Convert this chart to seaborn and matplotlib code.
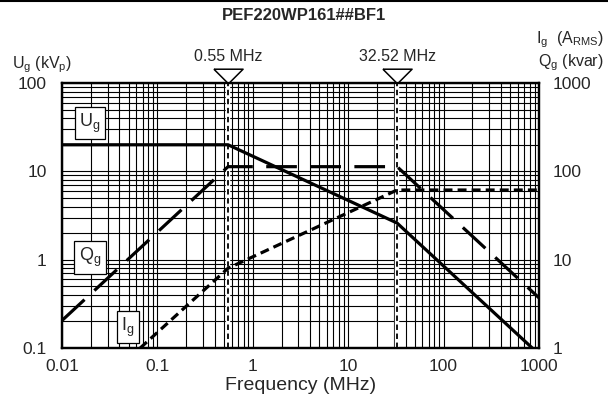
import numpy as np
import pandas as pd
import matplotlib
matplotlib.use("Agg")
import matplotlib.pyplot as plt
import matplotlib.transforms as mtransforms
from matplotlib.ticker import FixedLocator, LogLocator, NullFormatter
import seaborn as sns

# Data
ug_freq = [0.01, 0.55, 32.52, 850]       # MHz
ug_kv = [20, 20, 2.6, 0.1]               # kVp (left axis)
ig_freq = [0.066, 0.55, 32.52, 1000]     # MHz
ig_a = [1, 8, 61.5, 61.5]                # A rms (right axis)
qg_freq = [0.01, 0.55, 32.52, 1000]      # MHz
qg_kvar = [2.05, 113, 113, 3.7]          # kvar (right axis)

marker_freqs = [0.55, 32.52]
marker_labels = ["0.55 MHz", "32.52 MHz"]

x_ticks = [0.01, 0.1, 1, 10, 100, 1000]
x_labels = ["0.01", "0.1", "1", "10", "100", "1000"]
yl_ticks = [0.1, 1, 10, 100]
yl_labels = ["0.1", "1", "10", "100"]
yr_ticks = [1, 10, 100, 1000]
yr_labels = ["1", "10", "100", "1000"]

sns.set_style("white")
plt.rcParams["font.family"] = ["Liberation Sans", "DejaVu Sans"]
plt.rcParams["mathtext.default"] = "regular"

fig = plt.figure(figsize=(6.08, 4.08), dpi=100)
ax = fig.add_axes([0.102, 0.147, 0.7845, 0.6495])
ax2 = ax.twinx()

ax.set_xscale("log")
ax.set_yscale("log")
ax2.set_yscale("log")
ax.set_xlim(0.01, 1000)
ax.set_ylim(0.1, 100)
ax2.set_ylim(1, 1000)

# grid
for a in (ax.xaxis, ax.yaxis):
    a.set_minor_locator(LogLocator(base=10, subs=np.arange(2, 10)))
    a.set_minor_formatter(NullFormatter())
ax.grid(which="both", color="black", linewidth=0.8)
ax.set_axisbelow(True)
ax2.yaxis.set_minor_locator(LogLocator(base=10, subs=np.arange(2, 10)))
ax2.yaxis.set_minor_formatter(NullFormatter())
ax2.grid(False)

# vertical markers at the corner frequencies
for f in marker_freqs:
    ax.axvline(f, color="white", linewidth=3.2, zorder=3)
    ax.axvline(f, color="black", linewidth=1.3, linestyle=(0, (3, 2)), zorder=3.1)

# curves
ug_df = pd.DataFrame({"f": ug_freq, "v": ug_kv})
ig_df = pd.DataFrame({"f": ig_freq, "v": ig_a})
qg_df = pd.DataFrame({"f": qg_freq, "v": qg_kvar})

sns.lineplot(data=ug_df, x="f", y="v", ax=ax, color="black", linewidth=2.3,
             solid_capstyle="butt", zorder=4)
sns.lineplot(data=qg_df, x="f", y="v", ax=ax2, color="black", linewidth=2.3,
             linestyle=(0, (9.6, 4.2)), zorder=4)
sns.lineplot(data=ig_df, x="f", y="v", ax=ax2, color="black", linewidth=2.3,
             linestyle=(0, (2.8, 1.6)), zorder=4)

# ticks and labels
ax.xaxis.set_major_locator(FixedLocator(x_ticks))
ax.set_xticklabels(x_labels)
ax.yaxis.set_major_locator(FixedLocator(yl_ticks))
ax.set_yticklabels(yl_labels)
ax2.yaxis.set_major_locator(FixedLocator(yr_ticks))
ax2.set_yticklabels(yr_labels)

ax.tick_params(axis="x", which="both", length=0, pad=8, labelsize=12.5)
ax.tick_params(axis="y", which="both", length=0, pad=11, labelsize=12.5)
ax2.tick_params(axis="y", which="both", length=0, pad=10, labelsize=12.5)

ax.set_xlabel("Frequency (MHz)", fontsize=14, labelpad=2)
ax.set_ylabel("")
ax2.set_ylabel("")

for a in (ax, ax2):
    for s in a.spines.values():
        s.set_color("black")
        s.set_linewidth(1.6)

# triangle markers and labels above the plot
trans = mtransforms.blended_transform_factory(ax.transData, ax.transAxes)
tri = [(-1, 0.5), (1, 0.5), (0, -0.5), (-1, 0.5)]
for f, lab in zip(marker_freqs, marker_labels):
    ax.plot([f], [1.028], transform=trans, marker=tri, markersize=21,
            markerfacecolor="white", markeredgecolor="black",
            markeredgewidth=1.1, clip_on=False, zorder=6)
    ax.text(f, 1.083, lab, transform=trans, ha="center", va="baseline",
            fontsize=11.5)

# curve name boxes
box = dict(boxstyle="square,pad=0.25", facecolor="white", edgecolor="black",
           linewidth=0.9)
ax.text(0.0197, 35, "U$_g$", ha="center", va="center", fontsize=13,
        bbox=box, zorder=7)
ax.text(0.0197, 1.06, "Q$_g$", ha="center", va="center", fontsize=13,
        bbox=box, zorder=7)
ax.text(0.049, 0.173, "I$_g$", ha="center", va="center", fontsize=13,
        bbox=box, zorder=7)

# axis titles
fig.text(12 / 608, 1 - 68 / 408, "U$_g$ (kV$_p$)", ha="left", va="baseline",
         fontsize=11.5)
fig.text(604 / 608, 1 - 43 / 408, "I$_g$  (A$_{RMS}$)", ha="right",
         va="baseline", fontsize=11.5)
fig.text(604 / 608, 1 - 66 / 408, "Q$_g$ (kvar)", ha="right", va="baseline",
         fontsize=11.5)

fig.text(0.5, 1 - 20 / 408, "PEF220WP161##BF1", ha="center", va="baseline",
         fontsize=12, fontweight="bold")
fig.add_artist(plt.Line2D([0, 1], [0.998, 0.998], color="black",
                          linewidth=1.5, transform=fig.transFigure))

plt.savefig("out.png", dpi=100)
